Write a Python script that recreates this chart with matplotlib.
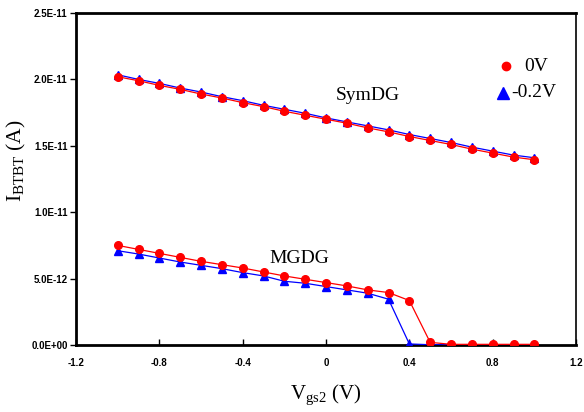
import numpy as np
import matplotlib
matplotlib.use('Agg')
import matplotlib.pyplot as plt

# gate voltage Vgs2 (V)
vgs2 = [-1.0, -0.9, -0.8, -0.7, -0.6, -0.5, -0.4, -0.3, -0.2, -0.1, 0.0,
        0.1, 0.2, 0.3, 0.4, 0.5, 0.6, 0.7, 0.8, 0.9, 1.0]

# SymDG, I_BTBT in units of 1e-12 A
sym_0v = [20.2, 19.9, 19.55, 19.25, 18.9, 18.6, 18.25, 17.95, 17.6, 17.3, 17.0,
          16.7, 16.35, 16.05, 15.7, 15.4, 15.1, 14.75, 14.45, 14.15, 13.95]
sym_m02 = [20.35, 20.0, 19.7, 19.35, 19.05, 18.7, 18.4, 18.05, 17.75, 17.45, 17.1,
           16.8, 16.5, 16.2, 15.85, 15.55, 15.25, 14.9, 14.6, 14.3, 14.1]

# MGDG
mg_0v = [7.5, 7.2, 6.9, 6.6, 6.3, 6.05, 5.8, 5.5, 5.2, 4.95, 4.7,
         4.45, 4.15, 3.95, 3.35, 0.2, 0.05, 0.05, 0.05, 0.05, 0.05]
mg_m02 = [7.1, 6.85, 6.55, 6.25, 6.0, 5.75, 5.45, 5.2, 4.8, 4.65, 4.4,
          4.15, 3.9, 3.45, 0.08, 0.02, 0.02, 0.02, 0.02, 0.02, 0.02]

xticks = [-1.2, -0.8, -0.4, 0, 0.4, 0.8, 1.2]
xticklabels = ['-1.2', '-0.8', '-0.4', '0', '0.4', '0.8', '1.2']
yticks = [0, 5e-12, 1e-11, 1.5e-11, 2e-11, 2.5e-11]
yticklabels = ['0.0E+00', '5.0E-12', '1.0E-11', '1.5E-11', '2.0E-11', '2.5E-11']

RED = '#ff0000'
BLUE = '#0000ff'
SERIF = 'Liberation Serif'

fig = plt.figure(figsize=(5.84, 4.12), dpi=100)
ax = fig.add_axes([76/584, 1-345/412, 500/584, 332/412])

x = np.array(vgs2)
s = 1e-12
ax.plot(x, np.array(sym_m02)*s, color=BLUE, lw=0.9, marker='^', ms=6, zorder=3)
ax.plot(x, np.array(sym_0v)*s, color=RED, lw=0.9, marker='o', ms=5.5, zorder=4)
ax.plot(x, np.array(mg_m02)*s, color=BLUE, lw=0.9, marker='^', ms=6, zorder=3)
ax.plot(x, np.array(mg_0v)*s, color=RED, lw=0.9, marker='o', ms=5.5, zorder=4)

ax.set_xlim(-1.2, 1.2)
ax.set_ylim(0, 2.5e-11)
ax.set_xticks(xticks)
ax.set_xticklabels(xticklabels, fontfamily='Liberation Sans', fontweight='bold', fontsize=7)
ax.set_yticks(yticks)
ax.set_yticklabels(yticklabels, fontfamily='Liberation Sans', fontweight='bold', fontsize=7)
ax.tick_params(axis='x', direction='in', length=4, width=1, pad=9)
ax.tick_params(axis='y', direction='out', length=4, width=1, pad=2)

for side in ['left', 'bottom', 'top']:
    ax.spines[side].set_linewidth(2)
ax.spines['right'].set_linewidth(1.2)

ax.set_xlabel(r'V$_{\mathregular{gs2}}$ (V)', fontfamily=SERIF, fontsize=15)
ax.set_ylabel(r'I$_{\mathregular{BTBT}}$ (A)', fontfamily=SERIF, fontsize=15.5)
ax.xaxis.set_label_coords(0.5, -38/332)
ax.yaxis.set_label_coords(-48/500, 0.555)

ax.text(0.2, 1.88e-11, 'SymDG', fontfamily=SERIF, fontsize=14, ha='center', va='center')
ax.text(-0.13, 6.55e-12, 'MGDG', fontfamily=SERIF, fontsize=14, ha='center', va='center')

# legend-like markers
ax.plot([0.866], [2.1e-11], 'o', color=RED, ms=6, clip_on=False)
ax.text(0.95, 2.1e-11, '0V', fontfamily=SERIF, fontsize=14, va='center')
ax.plot([0.85], [1.9e-11], '^', color=BLUE, ms=8, clip_on=False)
ax.text(0.89, 1.9e-11, '-0.2V', fontfamily=SERIF, fontsize=14, va='center')

fig.savefig('out.png', dpi=100)
